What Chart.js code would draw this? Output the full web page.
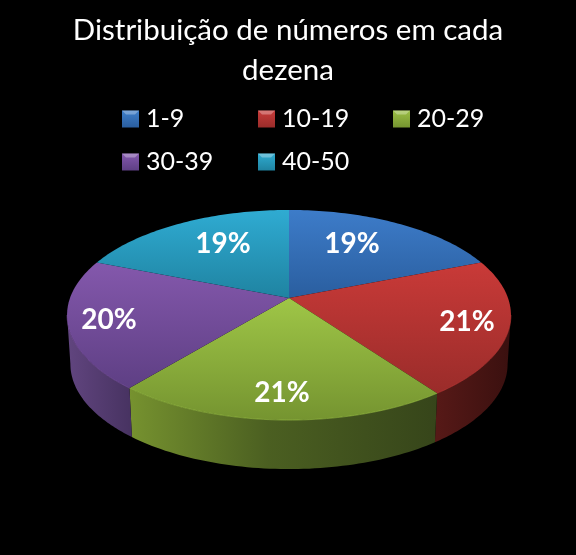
<!DOCTYPE html>
<html>
<head>
<meta charset="utf-8">
<script src="https://cdn.jsdelivr.net/npm/chart.js@4/dist/chart.umd.js"></script>
<style>
  html, body { margin: 0; background: #000; }
  canvas { display: block; }
</style>
</head>
<body>
<canvas id="grafico" width="576" height="555"></canvas>
<script>
const categorias = ['1-9', '10-19', '20-29', '30-39', '40-50']
const percentuais = [19, 21, 21, 20, 19]
const titulo = ['Distribuição de números em cada', 'dezena']

// [topo claro, topo escuro, parede clara, parede escura, legenda]
const cores = [
  ['#3d7cc9', '#2a5e9f', '#2a5e9f', '#1d4272', '#3f7fc9'],
  ['#c93a38', '#9a2c2a', '#561917', '#3a100f', '#c83c3a'],
  ['#9fc647', '#759430', '#76922f', '#36451a', '#9bbf45'],
  ['#8458ac', '#5e3f84', '#61457f', '#483362', '#8458ae'],
  ['#2fabd2', '#1f83a1', '#1f83a1', '#145a70', '#2fabd0'],
]

// perspectiva do disco: circulo projetado
const CX = 289, CY = 298, A = 219, B = 102.3, K = 0.162, ALTURA = 49
const FONTE = 'Lato, sans-serif'

const posRotulos = [[352, 244], [467, 322], [282, 393], [109, 320], [223, 244]]
const colLegenda = [122, 258, 393]
const linLegenda = [119, 162]

function proj(theta, raio = 1, desce = 0) {
  const w = 1 + K * raio * Math.cos(theta)
  const fator = desce ? 0.985 : 1
  return {
    x: CX + fator * A * raio * Math.sin(theta) / w,
    y: CY + desce - B * raio * Math.cos(theta) / w,
  }
}

function curva(ctx, ini, fim, desce = 0, primeiro = false) {
  const passos = 60
  for (let i = 0; i <= passos; i++) {
    const t = ini + (fim - ini) * i / passos
    const p = proj(t, 1, desce)
    if (i === 0 && primeiro) ctx.moveTo(p.x, p.y)
    else ctx.lineTo(p.x, p.y)
  }
}

function limites(pts) {
  const ys = pts.map(p => p.y), xs = pts.map(p => p.x)
  return { x0: Math.min(...xs), x1: Math.max(...xs), y0: Math.min(...ys), y1: Math.max(...ys) }
}

const pizza3d = {
  id: 'pizza3d',
  beforeDatasetsDraw(chart) {
    const ctx = chart.ctx
    const arcos = chart.getDatasetMeta(0).data
    const angulos = arcos.map(a => [a.startAngle + Math.PI / 2, a.endAngle + Math.PI / 2])
    const frenteIni = Math.acos(-K), frenteFim = 2 * Math.PI - frenteIni

    // paredes laterais
    angulos.forEach(([ini, fim], i) => {
      const a = Math.max(ini, frenteIni), b = Math.min(fim, frenteFim)
      if (a >= b) return
      const p0 = proj(a), p1 = proj(b)
      const grad = ctx.createLinearGradient(p0.x, 0, p1.x, 0)
      grad.addColorStop(0, cores[i][3])
      if (i === 2) grad.addColorStop(0.55, '#4b5f21')
      grad.addColorStop(1, cores[i][2])
      ctx.beginPath()
      curva(ctx, a, b, 0, true)
      curva(ctx, b, a, ALTURA)
      ctx.closePath()
      ctx.fillStyle = grad
      ctx.fill()
    })

    // tampo
    angulos.forEach(([ini, fim], i) => {
      const pts = [proj(0, 0)]
      for (let j = 0; j <= 20; j++) pts.push(proj(ini + (fim - ini) * j / 20))
      const box = limites(pts)
      const grad = ctx.createLinearGradient(0, box.y0, 0, box.y1)
      grad.addColorStop(0, cores[i][0])
      grad.addColorStop(1, cores[i][1])
      ctx.beginPath()
      ctx.moveTo(CX, CY)
      curva(ctx, ini, fim)
      ctx.closePath()
      ctx.fillStyle = grad
      ctx.fill()

      // brilho na borda da frente
      const a = Math.max(ini, frenteIni), b = Math.min(fim, frenteFim)
      if (a < b) {
        ctx.beginPath()
        curva(ctx, a, b, 0, true)
        ctx.strokeStyle = cores[i][0]
        ctx.globalAlpha = 0.55
        ctx.lineWidth = 1
        ctx.stroke()
        ctx.globalAlpha = 1
      }
    })
    return false
  },
  afterDraw(chart) {
    const ctx = chart.ctx
    ctx.save()
    ctx.textBaseline = 'middle'

    // rotulos de percentual
    ctx.textAlign = 'center'
    ctx.fillStyle = '#fff'
    ctx.font = `bold 28px ${FONTE}`
    percentuais.forEach((v, i) => {
      ctx.fillText(`${v}%`, posRotulos[i][0], posRotulos[i][1])
    })

    // legenda em grade, com colunas iguais
    ctx.textAlign = 'left'
    ctx.font = `25px ${FONTE}`
    categorias.forEach((nome, i) => {
      const x = colLegenda[i % 3], y = linLegenda[Math.floor(i / 3)]
      const lado = 17
      const grad = ctx.createLinearGradient(0, y - lado / 2, 0, y + lado / 2)
      grad.addColorStop(0, cores[i][4])
      grad.addColorStop(1, cores[i][1])
      ctx.fillStyle = grad
      ctx.fillRect(x, y - lado / 2, lado, lado)
      ctx.beginPath()
      ctx.moveTo(x, y - lado / 2)
      ctx.lineTo(x + lado, y - lado / 2)
      ctx.lineTo(x + lado - 4, y - lado / 2 + 4)
      ctx.lineTo(x + 4, y - lado / 2 + 4)
      ctx.closePath()
      ctx.fillStyle = 'rgba(255,255,255,0.3)'
      ctx.fill()
      ctx.fillStyle = '#fff'
      ctx.fillText(nome, x + 24, y)
    })
    ctx.restore()
  },
}

new Chart(document.getElementById('grafico').getContext('2d'), {
  type: 'pie',
  data: {
    labels: categorias,
    datasets: [{ data: percentuais, backgroundColor: cores.map(c => c[0]), borderWidth: 0 }],
  },
  options: {
    responsive: false,
    animation: false,
    devicePixelRatio: 1,
    plugins: {
      legend: { display: false },
      tooltip: { enabled: false },
      title: {
        display: true,
        text: titulo,
        color: '#fff',
        font: { family: 'Lato, sans-serif', size: 29.5, weight: 'normal', lineHeight: 1.36 },
        padding: { top: 10, bottom: 0 },
      },
    },
  },
  plugins: [pizza3d],
})
</script>
</body>
</html>
